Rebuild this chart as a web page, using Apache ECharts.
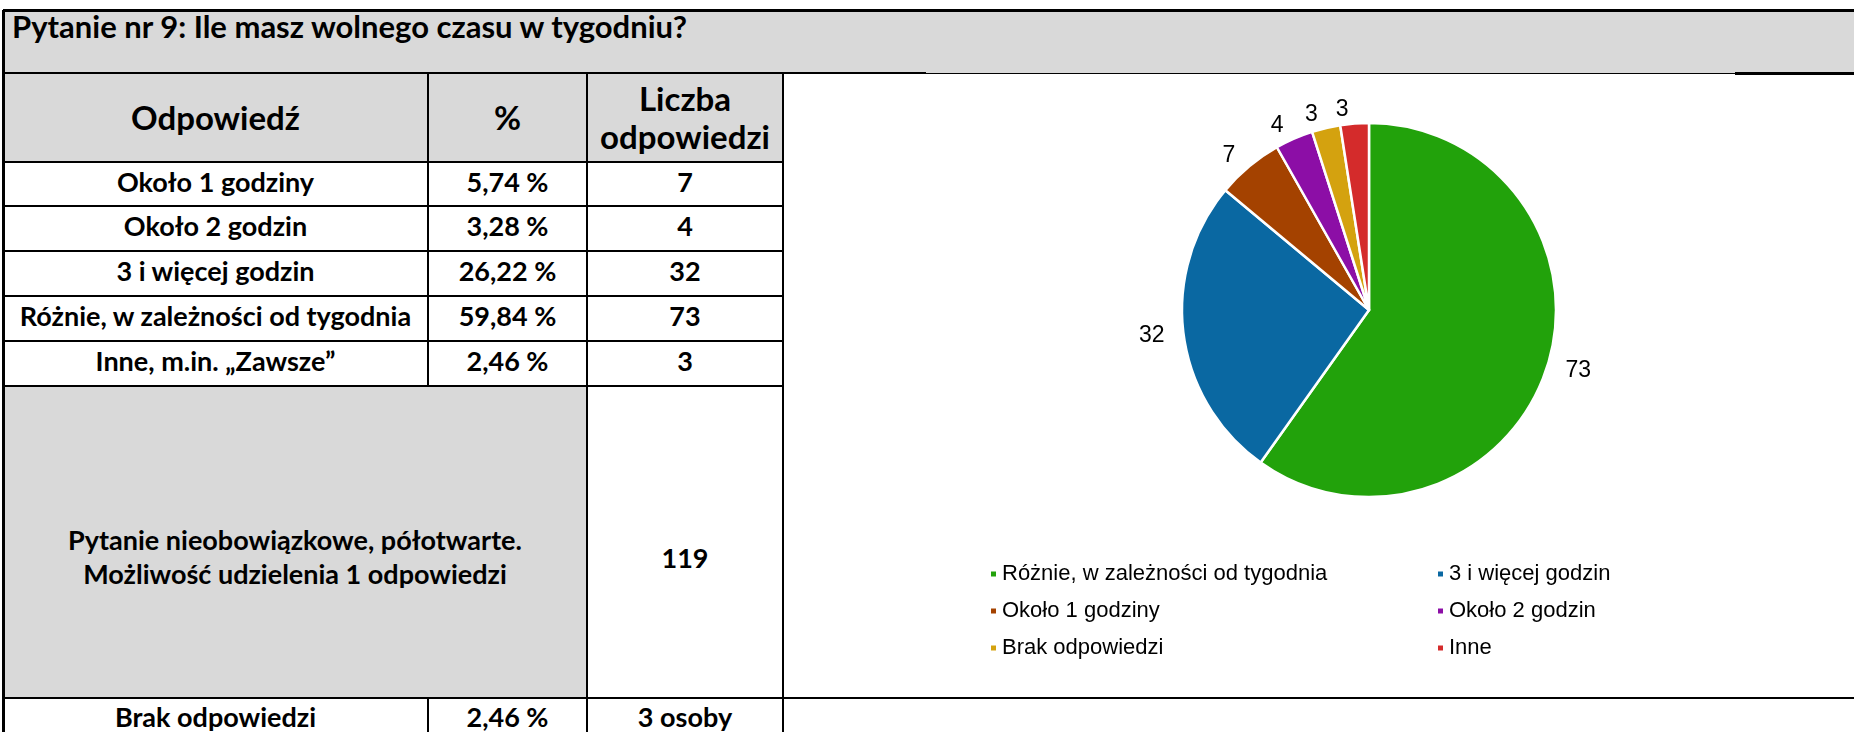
<!DOCTYPE html>
<html>
<head>
<meta charset="utf-8">
<script src="https://cdn.jsdelivr.net/npm/echarts@6/dist/echarts.min.js"></script>
<style>
  html, body { margin:0; padding:0; background:#fff; width:1854px; height:732px; overflow:hidden; }
  #wrap { position:absolute; left:0; top:0; width:1854px; height:732px; }
  .cell { position:absolute; display:flex; align-items:center; justify-content:center; text-align:center;
          font-family:'Lato', 'Open Sans', sans-serif; font-weight:700; color:#000; box-sizing:border-box; white-space:nowrap; }
  .ln { position:absolute; background:#000; }
  #chart { position:absolute; left:0; top:0; width:1854px; height:732px; pointer-events:none; }
</style>
</head>
<body>
<div id="wrap"></div>
<div id="chart"></div>
<script>
// ---- data ----
const titleText = 'Pytanie nr 9: Ile masz wolnego czasu w tygodniu?';
const headers = ['Odpowiedź', '%', 'Liczba<br>odpowiedzi'];
const categories = ['Około 1 godziny', 'Około 2 godzin', '3 i więcej godzin', 'Różnie, w zależności od tygodnia', 'Inne, m.in. „Zawsze”'];
const percents = ['5,74 %', '3,28 %', '26,22 %', '59,84 %', '2,46 %'];
const counts = [7, 4, 32, 73, 3];
const noteText = 'Pytanie nieobowiązkowe, półotwarte.<br>Możliwość udzielenia 1 odpowiedzi';
const totalText = '119';
const noAnswer = ['Brak odpowiedzi', '2,46 %', '3 osoby'];

const pieNames = ['Różnie, w zależności od tygodnia', '3 i więcej godzin', 'Około 1 godziny', 'Około 2 godzin', 'Brak odpowiedzi', 'Inne'];
const pieValues = [73, 32, 7, 4, 3, 3];
const pieColors = ['#22a20b', '#0a68a2', '#a44200', '#8c0ea6', '#d4a20f', '#d42b2b'];

// ---- layout ----
const X = [3, 428, 587, 783, 1854];
const Y = [10, 73, 162, 206, 251, 296, 341, 386, 698, 745];
const wrap = document.getElementById('wrap');
function cell(x0, y0, x1, y1, html, bg, fs, extra) {
  const d = document.createElement('div');
  d.className = 'cell';
  d.style.left = x0 + 'px'; d.style.top = y0 + 'px';
  d.style.width = (x1 - x0) + 'px'; d.style.height = (y1 - y0) + 'px';
  d.style.background = bg || '#fff';
  d.style.fontSize = (fs || 22) + 'px';
  if (extra) Object.assign(d.style, extra);
  d.innerHTML = html;
  wrap.appendChild(d);
}
function line(x0, y0, x1, y1, t) {
  const d = document.createElement('div');
  d.className = 'ln';
  if (y0 === y1) { d.style.left = x0 + 'px'; d.style.top = (y0 - t / 2) + 'px'; d.style.width = (x1 - x0) + 'px'; d.style.height = t + 'px'; }
  else { d.style.left = (x0 - t / 2) + 'px'; d.style.top = y0 + 'px'; d.style.width = t + 'px'; d.style.height = (y1 - y0) + 'px'; }
  wrap.appendChild(d);
}
const GRAY = '#d9d9d9';
const FS = 27;
// title
cell(X[0], Y[0], X[4], Y[1], titleText, GRAY, 31, { justifyContent:'flex-start', alignItems:'flex-start', paddingLeft:'9px', paddingTop:'0px', lineHeight:'1.05' });
// headers
for (let c = 0; c < 3; c++) cell(X[c], Y[1], X[c + 1], Y[2], headers[c], GRAY, 33, { lineHeight:'1.15' });
// rows
for (let r = 0; r < categories.length; r++) {
  cell(X[0], Y[2 + r], X[1], Y[3 + r], categories[r], '#fff', FS, { paddingBottom:'6px' });
  cell(X[1], Y[2 + r], X[2], Y[3 + r], percents[r], '#fff', FS, { paddingBottom:'6px' });
  cell(X[2], Y[2 + r], X[3], Y[3 + r], String(counts[r]), '#fff', FS, { paddingBottom:'6px' });
}
cell(X[0], Y[7], X[2], Y[8], noteText, GRAY, FS, { lineHeight:'1.27', paddingTop:'30px' });
cell(X[2], Y[7], X[3], Y[8], totalText, '#fff', FS, { paddingTop:'30px' });
for (let c = 0; c < 3; c++) cell(X[c], Y[8], X[c + 1], Y[9], noAnswer[c], '#fff', FS, { alignItems:'flex-start', paddingTop:'2px' });

// lines
line(X[0], Y[0], X[4], Y[0], 3);
line(X[0], Y[0], X[0], 732, 3);
line(X[0], Y[1], 926, Y[1], 2);
line(926, Y[1], 1735, Y[1], 1);
line(1735, Y[1], X[4], Y[1], 3);
for (let r = 2; r <= 7; r++) line(X[0], Y[r], X[3], Y[r], 2);
line(X[0], Y[8], X[4], Y[8], 2);
line(X[1], Y[1], X[1], Y[7], 2);
line(X[1], Y[8], X[1], 745, 2);
line(X[2], Y[1], X[2], 745, 2);
line(X[3], Y[1], X[3], 745, 2);

// ---- pie ----
const chart = echarts.init(document.getElementById('chart'), null, { renderer:'canvas' });
const fontFam = "'Liberation Sans', Arial, sans-serif";
const legendText = { fontFamily:fontFam, fontSize:22, color:'#000', lineHeight:22 };
chart.setOption({
  backgroundColor:'transparent',
  animation:false,
  color:pieColors,
  legend:[
    { data:[pieNames[0], pieNames[2], pieNames[4]], orient:'vertical', left:984, top:558, icon:'rect',
      itemWidth:7, itemHeight:7, itemGap:15, textStyle:legendText, selectedMode:false },
    { data:[pieNames[1], pieNames[3], pieNames[5]], orient:'vertical', left:1431, top:558, icon:'rect',
      itemWidth:7, itemHeight:7, itemGap:15, textStyle:legendText, selectedMode:false }
  ],
  series:[{
    type:'pie',
    center:[1369, 310],
    radius:[0, 187],
    startAngle:90,
    clockwise:true,
    avoidLabelOverlap:false,
    itemStyle:{ borderColor:'#fff', borderWidth:2.5 },
    label:{ show:true, position:'outside', formatter:'{c}', fontFamily:fontFam, fontSize:23, color:'#000' },
    labelLine:{ show:false, length:14, length2:0 },
    emphasis:{ disabled:true },
    data:pieNames.map((n, i) => ({ name:n, value:pieValues[i] }))
  }]
});
</script>
</body>
</html>
